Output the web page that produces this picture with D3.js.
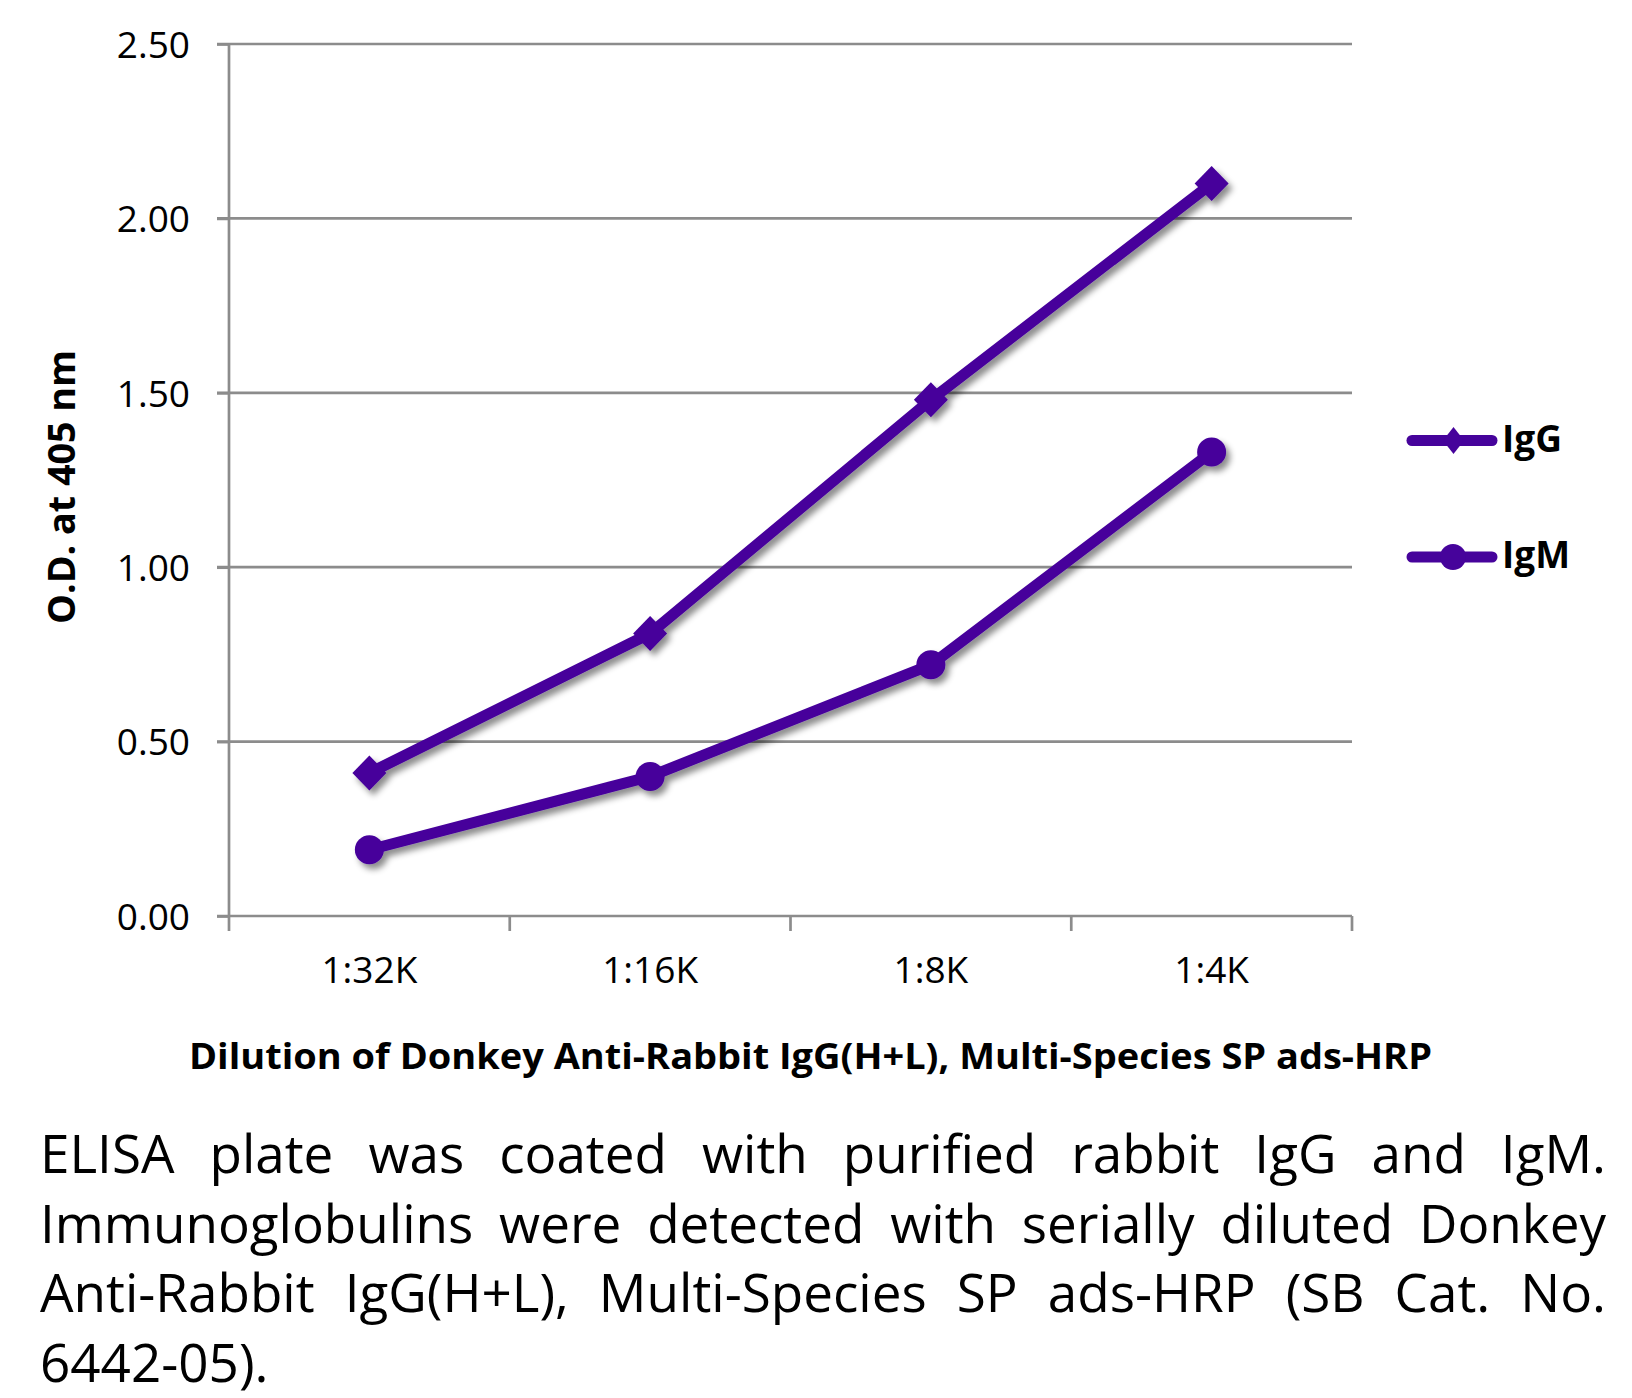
<!DOCTYPE html>
<html><head><meta charset="utf-8">
<script src="https://cdn.jsdelivr.net/npm/d3@7"></script>
<style>body{margin:0;background:#fff}svg{display:block}</style>
</head><body>
<svg id="c" width="1632" height="1398"></svg>
<script>
// ---- data ----
const categories = ["1:32K", "1:16K", "1:8K", "1:4K"];
const igGValues = [0.41, 0.81, 1.48, 2.10];
const igMValues = [0.19, 0.40, 0.72, 1.33];
const yTickValues = [0, 0.5, 1.0, 1.5, 2.0, 2.5];
const seriesNames = ["IgG", "IgM"];
const yTitle = "O.D. at 405 nm";
const xTitle = "Dilution of Donkey Anti-Rabbit IgG(H+L), Multi-Species SP ads-HRP";
const captionLines = [
  "ELISA plate was coated with purified rabbit IgG and IgM.",
  "Immunoglobulins were detected with serially diluted Donkey",
  "Anti-Rabbit IgG(H+L), Multi-Species SP ads-HRP (SB Cat. No.",
  "6442-05)."
];

// ---- layout ----
const purple = "#46039B";
const gridCol = "#8c8c8c";
const L = 229, R = 1352, T = 44, B = 916;
const svg = d3.select("#c");

const defs = svg.append("defs");
const f = defs.append("filter").attr("id","sh").attr("x","-20%").attr("y","-20%").attr("width","140%").attr("height","140%");
f.append("feDropShadow").attr("dx",4).attr("dy",5).attr("stdDeviation",3)
  .attr("flood-color","#000").attr("flood-opacity",0.45);

const x = d3.scaleBand().domain(categories).range([L, R]).paddingInner(0).paddingOuter(0);
const y = d3.scaleLinear().domain([0, 2.5]).range([B, T]);

// gridlines
svg.append("g").selectAll("line").data(yTickValues.filter(v => v > 0)).join("line")
  .attr("x1", L - 12).attr("x2", R).attr("y1", d => y(d)).attr("y2", d => y(d))
  .attr("stroke", gridCol).attr("stroke-width", 2.7);

// y axis
const yAxis = d3.axisLeft(y).tickValues(yTickValues).tickFormat(d3.format(".2f"))
  .tickSize(12).tickPadding(27);
const gy = svg.append("g").attr("transform", `translate(${L},0)`).call(yAxis);
gy.select(".domain").attr("stroke", gridCol).attr("stroke-width", 2.7)
  .attr("d", `M0,${T}V${B}`);
gy.selectAll(".tick line").attr("stroke", gridCol).attr("stroke-width", 2.7);
gy.selectAll(".tick text").attr("font-family", "'Open Sans'").attr("font-size", 37)
  .attr("fill", "#000").attr("dy", "0.36em");

// x axis
svg.append("line").attr("x1", L - 12).attr("x2", R).attr("y1", B).attr("y2", B)
  .attr("stroke", gridCol).attr("stroke-width", 2.7);
const bounds = categories.map(c => x(c)).concat([x.range()[1]]);
svg.append("g").selectAll("line").data(bounds).join("line")
  .attr("x1", d => d).attr("x2", d => d).attr("y1", B).attr("y2", B + 15)
  .attr("stroke", gridCol).attr("stroke-width", 2.7);
const xAxis = d3.axisBottom(x).tickSize(0).tickPadding(0);
const gx = svg.append("g").attr("transform", `translate(0,${B})`).call(xAxis);
gx.select(".domain").remove();
gx.selectAll(".tick text").attr("font-family", "'Open Sans'").attr("font-size", 37)
  .attr("fill", "#000").attr("y", 67).attr("dy", 0);

// series
const cx = c => x(c) + x.bandwidth() / 2;
const line = d3.line().x(d => cx(d.c)).y(d => y(d.v));
const series = [
  { name: seriesNames[0], pts: categories.map((c, i) => ({ c, v: igGValues[i] })), shape: "diamond" },
  { name: seriesNames[1], pts: categories.map((c, i) => ({ c, v: igMValues[i] })), shape: "circle" }
];
const diamond = (hw, hh) => `M0,${-hh}L${hw},0L0,${hh}L${-hw},0Z`;

const plot = svg.append("g").attr("filter", "url(#sh)");
series.forEach(s => {
  plot.append("path").datum(s.pts).attr("d", line).attr("fill", "none")
    .attr("stroke", purple).attr("stroke-width", 11).attr("stroke-linejoin", "round");
});
series.forEach(s => {
  const g = plot.append("g");
  if (s.shape === "diamond") {
    g.selectAll("path").data(s.pts).join("path")
      .attr("transform", d => `translate(${cx(d.c)},${y(d.v)})`)
      .attr("d", diamond(17, 17.5)).attr("fill", purple);
  } else {
    g.selectAll("circle").data(s.pts).join("circle")
      .attr("cx", d => cx(d.c)).attr("cy", d => y(d.v)).attr("r", 14.5).attr("fill", purple);
  }
});

// legend
const legY = [440.5, 557];
series.forEach((s, i) => {
  const g = svg.append("g").attr("transform", `translate(0,${legY[i]})`);
  g.append("line").attr("x1", 1412).attr("x2", 1492).attr("y1", 0).attr("y2", 0)
    .attr("stroke", purple).attr("stroke-width", 11).attr("stroke-linecap", "round");
  if (s.shape === "diamond") {
    g.append("path").attr("transform", "translate(1453.5,0)").attr("d", diamond(10.5, 13.5)).attr("fill", purple);
  } else {
    g.append("circle").attr("cx", 1453).attr("cy", 0).attr("r", 13).attr("fill", purple);
  }
  g.append("text").attr("x", 1502).attr("y", 11).text(s.name)
    .attr("font-family", "'Open Sans'").attr("font-weight", 700).attr("font-size", 37).attr("fill", "#000");
});

// axis titles
svg.append("text").attr("transform", "translate(75,487) rotate(-90)")
  .attr("text-anchor", "middle").attr("font-family", "'Open Sans'").attr("font-weight", 700)
  .attr("font-size", 38).attr("textLength", 274).attr("lengthAdjust", "spacingAndGlyphs")
  .attr("fill", "#000").text(yTitle);
svg.append("text").attr("x", 189).attr("y", 1069)
  .attr("font-family", "'Open Sans'").attr("font-weight", 700)
  .attr("font-size", 36).attr("textLength", 1243).attr("lengthAdjust", "spacingAndGlyphs")
  .attr("fill", "#000").text(xTitle);

// caption (justified)
const capX0 = 40, capX1 = 1606, capBase = [1173, 1242.5, 1312, 1381.5];
const meas = svg.append("text").attr("font-family", "'Open Sans'").attr("visibility", "hidden");
function widths(words, fs) {
  meas.attr("font-size", fs);
  return words.map(w => { meas.text(w); return meas.node().getComputedTextLength(); });
}
let fs = 53;
for (; fs > 36; fs -= 0.5) {
  let ok = true;
  captionLines.slice(0, 3).forEach(l => {
    const w = l.split(" ");
    const ws = widths(w, fs);
    const gap = (capX1 - capX0 - d3.sum(ws)) / (w.length - 1);
    if (gap < 16) ok = false;
  });
  if (ok) break;
}
captionLines.forEach((l, i) => {
  const w = l.split(" ");
  const ws = widths(w, fs);
  const justify = i < captionLines.length - 1;
  const gap = justify ? (capX1 - capX0 - d3.sum(ws)) / (w.length - 1) : fs * 0.26;
  let xx = capX0;
  w.forEach((word, j) => {
    svg.append("text").attr("x", xx).attr("y", capBase[i]).attr("font-family", "'Open Sans'")
      .attr("font-size", fs).attr("fill", "#000").text(word);
    xx += ws[j] + gap;
  });
});
meas.remove();
</script>
</body></html>
